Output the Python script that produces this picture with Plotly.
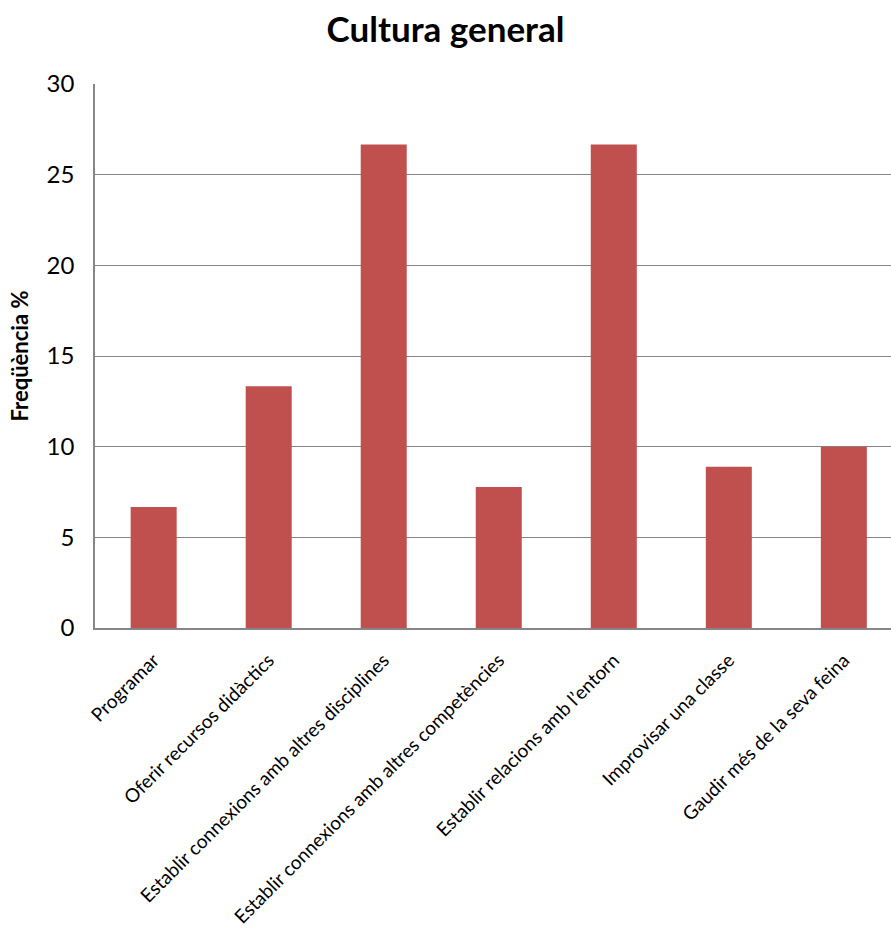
import plotly.graph_objects as go

categories = [
    "Programar",
    "Oferir recursos didàctics",
    "Establir connexions amb altres disciplines",
    "Establir connexions amb altres competències",
    "Establir relacions amb l’entorn",
    "Improvisar una classe",
    "Gaudir més de la seva feina",
]
values = [6.67, 13.33, 26.67, 7.78, 26.67, 8.89, 10.0]
y_ticks = [0, 5, 10, 15, 20, 25, 30]

font_family = "Lato, 'Open Sans', sans-serif"

fig = go.Figure(
    go.Bar(
        x=categories,
        y=values,
        marker=dict(color="#C0504D", line=dict(width=0)),
    )
)

fig.update_layout(
    width=891,
    height=933,
    margin=dict(l=95, r=0, t=84, b=305),
    paper_bgcolor="white",
    plot_bgcolor="white",
    bargap=0.6,
    showlegend=False,
    font=dict(family=font_family, color="black"),
    title=dict(
        text="<b>Cultura general</b>",
        x=0.5,
        xanchor="center",
        y=0.968,
        yanchor="middle",
        font=dict(size=35, family=font_family, color="black"),
    ),
)

# the category axis runs slightly past the right edge of the figure
fig.update_xaxes(
    range=[-0.51, 6.41],
    tickangle=-45,
    tickfont=dict(size=19),
    showline=True,
    linecolor="#868686",
    linewidth=1.5,
    ticks="outside",
    ticklen=12,
    tickcolor="rgba(0,0,0,0)",
    showgrid=False,
)

fig.update_yaxes(
    range=[0, 30],
    tickvals=y_ticks,
    tickfont=dict(size=24),
    showline=True,
    linecolor="#868686",
    linewidth=1.5,
    showgrid=True,
    gridcolor="#868686",
    gridwidth=1.2,
    zeroline=False,
    ticks="outside",
    ticklen=14,
    tickcolor="rgba(0,0,0,0)",
    title=dict(text="<b>Freqüència %</b>", font=dict(size=22), standoff=12),
)

fig.write_html("out.html")
